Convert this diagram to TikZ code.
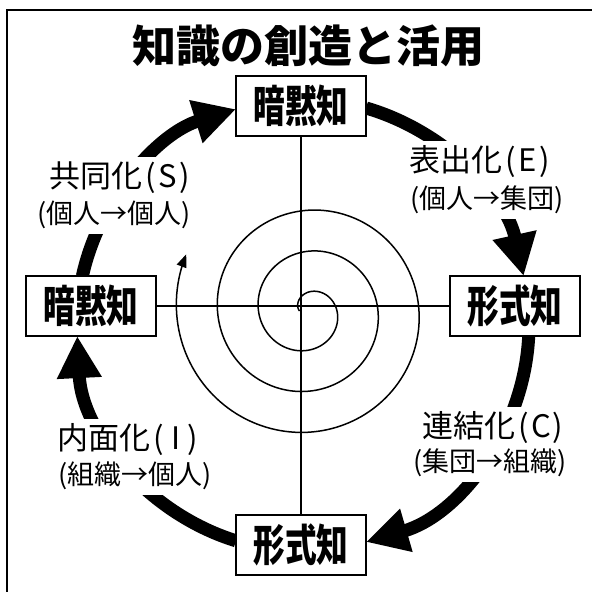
\documentclass[tikz,border=0pt]{standalone}
\usepackage{fontspec}
\usetikzlibrary{arrows.meta,backgrounds}
\newfontfamily\jp{Noto Sans CJK JP}
\newfontfamily\jpcond[FakeStretch=0.72]{Noto Sans CJK JP}
\begin{document}
\begin{tikzpicture}[x=1pt,y=-1pt,
  kbox/.style={draw, line width=1.6pt, fill=white, minimum width=130pt, minimum height=60pt, inner sep=0pt,
    font=\jpcond\bfseries\fontsize{44}{44}\selectfont},
  labA/.style={fill=white, inner xsep=3pt, inner ysep=5pt, font=\jp\fontsize{31}{31}\selectfont},
  labB/.style={fill=white, inner xsep=3pt, inner ysep=5pt, font=\jp\fontsize{27}{27}\selectfont},
  cyc/.style={line width=13pt, -{Triangle[width=42pt,length=42pt]}},
  thin/.style={line width=1.5pt}
]
\useasboundingbox (0,0) rectangle (592,592);
% frame
\draw[line width=2pt] (7,592) -- (7,10) -- (592,10);
% title
\node (title) at (308,46) {\jp\bfseries\fontsize{44}{44}\selectfont 知識の創造と活用};
% boxes
\node[kbox] (top) at (301,106) {暗黙知};
\node[kbox] (lt) at (91,306) {暗黙知};
\node[kbox] (rt) at (515,306) {形式知};
\node[kbox] (bot) at (301,545) {形式知};
% cross lines
\draw[thin] (top.south) -- (bot.north);
\draw[thin] (lt.east) -- (rt.west);
% spiral
\coordinate (sc) at (308,311);
\draw[thin, -{Triangle[width=10pt,length=13pt]}] plot[domain=-90:1015, samples=500, variable=\t]
  ({308+(18.75+0.113889*\t)*sin(\t)},{311-(18.75+0.113889*\t)*cos(\t)});
% cycle arrows
\coordinate (C) at (303,325);
\begin{scope}[on background layer]
\draw[cyc] (C) ++(192.5:226) arc[start angle=192.5, end angle=252.75, radius=226];
\draw[cyc] (C) ++(286.2:226) arc[start angle=286.2, end angle=347.5, radius=226];
\draw[cyc] (C) ++(2.8:226) arc[start angle=2.8, end angle=73.8, radius=226];
\draw[cyc] (C) ++(107.25:226) arc[start angle=107.25, end angle=177.2, radius=226];
\end{scope}
% labels
\node[labA] (s1) at (120,178) {共同化\kern3pt(\makebox[24pt]{S})};
\node[labB] (s2) at (114,215) {(個人→個人)};
\node[labA] (e1) at (480,162) {表出化\kern3pt(\makebox[24pt]{E})};
\node[labB] (e2) at (487,200) {(個人→集団)};
\node[labA] (i1) at (128,440) {内面化\kern3pt(\makebox[24pt]{I})};
\node[labB] (i2) at (135,476) {(組織→個人)};
\node[labA] (c1) at (493,428) {連結化\kern3pt(\makebox[24pt]{C})};
\node[labB] (c2) at (490,463) {(集団→組織)};
\end{tikzpicture}
\end{document}
